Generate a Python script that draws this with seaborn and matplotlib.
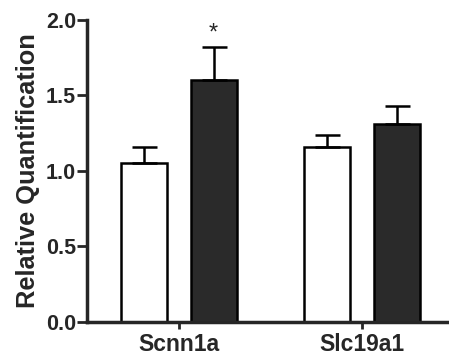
import pandas as pd
import matplotlib
matplotlib.use("Agg")
import matplotlib.pyplot as plt
import seaborn as sns

# Values
genes = ["Scnn1a", "Scnn1a", "Slc19a1", "Slc19a1"]
groups = ["Control", "Treated", "Control", "Treated"]
means = [1.05, 1.60, 1.16, 1.31]
sems = [0.11, 0.22, 0.08, 0.12]
significant = [False, True, False, False]

data = pd.DataFrame({"gene": genes, "group": groups, "value": means, "sem": sems, "sig": significant})

sns.set_style("ticks")
plt.rcParams["font.family"] = ["Liberation Sans", "DejaVu Sans"]
plt.rcParams["font.weight"] = "bold"

fig = plt.figure(figsize=(4.49, 3.58), dpi=100)
ax = fig.add_axes([0.194, 0.101, 0.806, 0.843])

sns.barplot(data=data, x="gene", y="value", hue="group",
            palette=["white", "#2a2a2a"], edgecolor="black", linewidth=1.8,
            width=0.76, gap=0.34, errorbar=None, legend=False, ax=ax)

# error bars (upper half only) and significance star, placed on the drawn bars
bars = sorted([p for p in ax.patches if p.get_height() > 0], key=lambda p: p.get_x())
rows = data.sort_values(["gene", "group"]).reset_index(drop=True)
for bar, (_, row) in zip(bars, rows.iterrows()):
    xc = bar.get_x() + bar.get_width() / 2
    ax.errorbar(xc, row["value"], yerr=[[0], [row["sem"]]], color="black",
                elinewidth=1.8, capsize=9, capthick=1.8, zorder=1)
    if row["sig"]:
        ax.text(xc, row["value"] + row["sem"] + 0.02, "*", ha="center", va="bottom",
                fontsize=17, fontweight="normal")

ax.set_ylim(0, 2.0)
ax.set_xlim(-0.5, 1.475)
ax.set_yticks([0.0, 0.5, 1.0, 1.5, 2.0])
ax.set_yticklabels(["0.0", "0.5", "1.0", "1.5", "2.0"])
ax.set_xlabel("")
ax.set_ylabel("Relative Quantification", fontsize=18.3, fontweight="bold", labelpad=4)

ax.spines["top"].set_visible(False)
ax.spines["right"].set_visible(False)
ax.spines["left"].set_linewidth(2.5)
ax.spines["bottom"].set_linewidth(2.5)
ax.tick_params(axis="y", length=7, width=2, labelsize=15.5, pad=1)
ax.tick_params(axis="x", length=5, width=2, labelsize=16.5, pad=3)

fig.savefig("out.png", dpi=100)
